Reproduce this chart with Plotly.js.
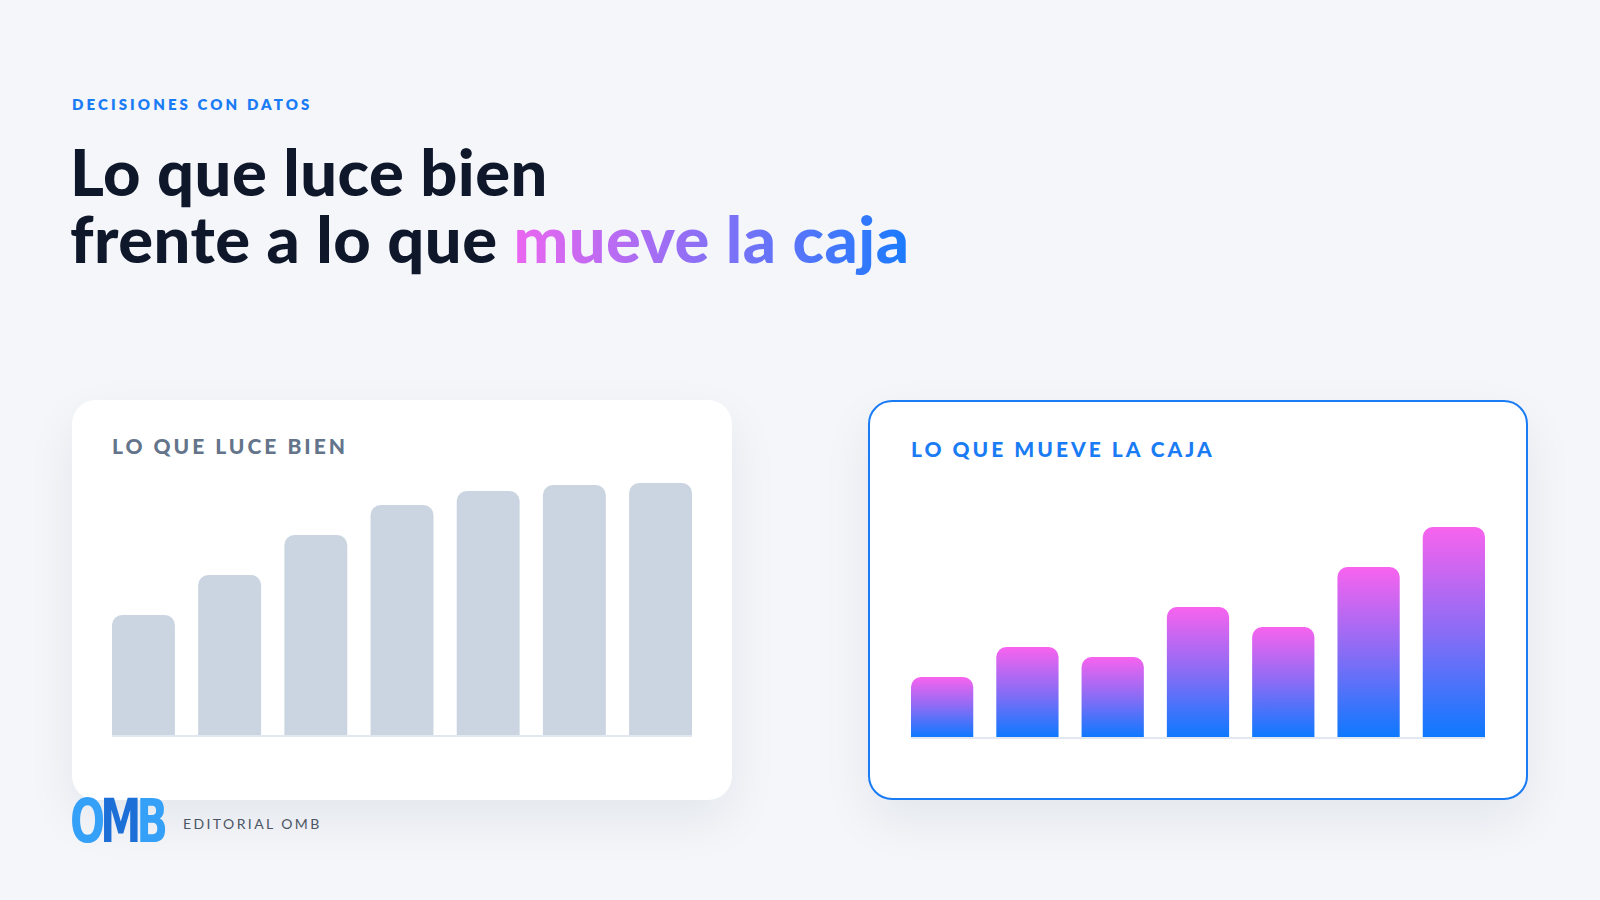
<!DOCTYPE html>
<html lang="es">
<head>
<meta charset="utf-8">
<title>Lo que luce bien frente a lo que mueve la caja</title>
<script src="https://cdn.plot.ly/plotly-3.0.1.min.js"></script>
<style>
  html, body { margin: 0; padding: 0; }
  body {
    width: 1600px; height: 900px; position: relative; overflow: hidden;
    background: #f4f6fa; font-family: Lato, "Noto Sans", sans-serif;
  }
  .eyebrow {
    position: absolute; left: 72px; top: 95px;
    font: 800 15px Lato, sans-serif; letter-spacing: 3.1px; color: #1a7cf5;
  }
  .headline {
    position: absolute; left: 70px; margin: 0; height: 67px;
    font: 900 65px/67px Lato, sans-serif; letter-spacing: 0.5px; color: #0f172a;
    white-space: nowrap;
  }
  #h1a { top: 138px; }
  #h1b { top: 205px; }
  .grad {
    background: linear-gradient(90deg, #ec66f0 0%, #9b6ef4 40%, #1a7bff 100%);
    -webkit-background-clip: text; background-clip: text; color: transparent;
  }
  .card {
    position: absolute; top: 400px; width: 660px; height: 400px; box-sizing: border-box;
    background: #fff; border-radius: 24px; overflow: hidden;
    box-shadow: 0 20px 50px rgba(15, 23, 42, 0.07);
  }
  #cardA { left: 72px; }
  #cardB { left: 868px; border: 2px solid #1a7cf5; }
  .plot { position: absolute; left: 0; top: 0; }
  .logo {
    position: absolute; left: 70px; top: 796px; height: 50px;
    font: 700 56px/50px "Liberation Sans Narrow", "DejaVu Sans Condensed", sans-serif;
    letter-spacing: -6px; transform: scale(0.82, 1.08); transform-origin: left center;
  }
  .logo .o, .logo .b { color: #35a0f7; }
  .logo .m { color: #1d6fd8; }
  .brand {
    position: absolute; left: 183px; top: 815px;
    font: 400 14px Lato, sans-serif; letter-spacing: 2.4px; color: #4b5563;
  }
</style>
</head>
<body>
<div class="eyebrow">DECISIONES CON DATOS</div>
<div class="headline" id="h1a">Lo que luce bien</div>
<div class="headline" id="h1b">frente a lo que <span class="grad">mueve la caja</span></div>

<div class="card" id="cardA"><div class="plot" id="div1"></div></div>
<div class="card" id="cardB"><div class="plot" id="div2"></div></div>

<div class="logo"><span class="o">O</span><span class="m">M</span><span class="b">B</span></div>
<div class="brand">EDITORIAL OMB</div>

<script>
// seven periods, no labels shown on the cards
const periodos = ["P1", "P2", "P3", "P4", "P5", "P6", "P7"];
// left card: vanity metric (keeps growing)
const luceBien = [60, 80, 100, 115, 122, 125, 126];
// right card: what actually moves the cash
const mueveCaja = [30, 45, 40, 65, 55, 85, 105];

const gap = 0.27;
const half = (1 - gap) / 2;

const baseLayout = (title, color, w, h, l, r, t, b, titleY) => ({
    width: w,
    height: h,
    margin: { l: l, r: r, t: t, b: b },
    paper_bgcolor: "rgba(0,0,0,0)",
    plot_bgcolor: "rgba(0,0,0,0)",
    showlegend: false,
    bargap: gap,
    title: {
        text: "<span style='letter-spacing:3px'>" + title + "</span>",
        x: 0, xref: "paper", xanchor: "left",
        y: titleY, yref: "container", yanchor: "middle",
        font: { family: "Lato, sans-serif", size: 21, weight: 900, color: color }
    },
    xaxis: {
        type: "category",
        range: [-half, periodos.length - 1 + half],
        showticklabels: false, ticks: "", showgrid: false, zeroline: false,
        showline: true, linecolor: "#e2e8f0", linewidth: 2
    },
    yaxis: {
        range: [0, 130],
        visible: false, showgrid: false, zeroline: false
    }
});

var d1 = [{
    type: "bar",
    x: periodos,
    y: luceBien,
    marker: { color: "#cbd5e1", cornerradius: 10 },
    hoverinfo: "skip"
}];
var d2 = [{
    type: "bar",
    x: periodos,
    y: mueveCaja,
    marker: { color: "#8a6cf5", cornerradius: 10 },
    hoverinfo: "skip"
}];

var layout1 = baseLayout("LO QUE LUCE BIEN", "#64748b", 660, 400, 40, 40, 75, 65, 1 - 47 / 400);
var layout2 = baseLayout("LO QUE MUEVE LA CAJA", "#1a7cf5", 656, 396, 41, 41, 75, 61, 1 - 48 / 396);

const config = { displayModeBar: false, staticPlot: true };

Plotly.newPlot("div1", d1, layout1, config);
Plotly.newPlot("div2", d2, layout2, config).then(gd => {
    // vertical pink-to-blue fill on each bar
    const svg = gd.querySelector(".main-svg");
    const ns = "http://www.w3.org/2000/svg";
    let defs = svg.querySelector("defs");
    const lg = document.createElementNS(ns, "linearGradient");
    lg.setAttribute("id", "barGrad");
    lg.setAttribute("x1", "0"); lg.setAttribute("y1", "0");
    lg.setAttribute("x2", "0"); lg.setAttribute("y2", "1");
    [["0%", "#f863ee"], ["50%", "#8a6cf5"], ["100%", "#0d79ff"]].forEach(s => {
        const st = document.createElementNS(ns, "stop");
        st.setAttribute("offset", s[0]);
        st.setAttribute("stop-color", s[1]);
        lg.appendChild(st);
    });
    defs.appendChild(lg);
    gd.querySelectorAll(".bars .point path").forEach(p => {
        p.style.fill = "url(#barGrad)";
    });
});
</script>
</body>
</html>
